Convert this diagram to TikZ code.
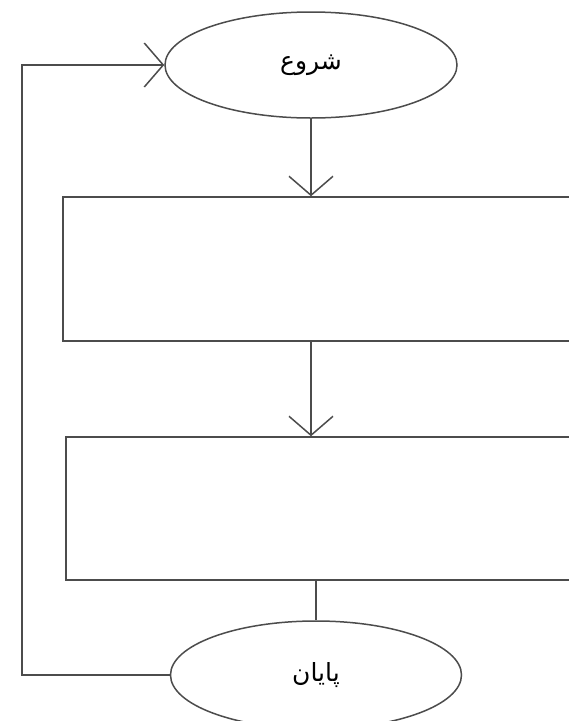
\documentclass[tikz,border=0pt]{standalone}
\usepackage{fontspec}
\usetikzlibrary{shapes.geometric,arrows.meta}
\TeXXeTstate=1
\newfontfamily\arabicfont[Script=Arabic]{DejaVu Sans}
\begin{document}
\begin{tikzpicture}[x=1pt,y=-1pt,
  line/.style={draw=black!70,line width=1.5pt},
  term/.style={line,shape=ellipse,inner sep=0pt,minimum width=292pt,minimum height=106pt,font=\arabicfont\fontsize{25}{28}\selectfont},
  procbox/.style={line,shape=rectangle,inner sep=0pt,minimum width=512pt,minimum height=144pt},
  flow/.style={line,-{Straight Barb[length=19pt,width=44pt,line width=1.5pt]}}]
\useasboundingbox (0,0) rectangle (569,721);
\clip (0,0) rectangle (569,721);
\fill[white] (0,0) rectangle (569,721);
\node[term] (start) at (311,65) {\beginR شروع\endR};
\node[procbox] (b1) at (319,269) {};
\node[procbox,minimum width=509pt,minimum height=143pt] (b2) at (320.5,508.5) {};
\node[term,minimum width=291pt,minimum height=108pt] (end) at (316,675) {\beginR پایان\endR};
\coordinate (fb) at (22,675);
\draw[flow] (start.south) -- (start.south |- b1.north);
\draw[flow] (b1.south -| start.south) -- (start.south |- b2.north);
\draw[line] (b2.south -| end.north) -- (end.north);
\draw[flow] (end.west) -- (fb) |- (start.west);
\end{tikzpicture}
\end{document}
